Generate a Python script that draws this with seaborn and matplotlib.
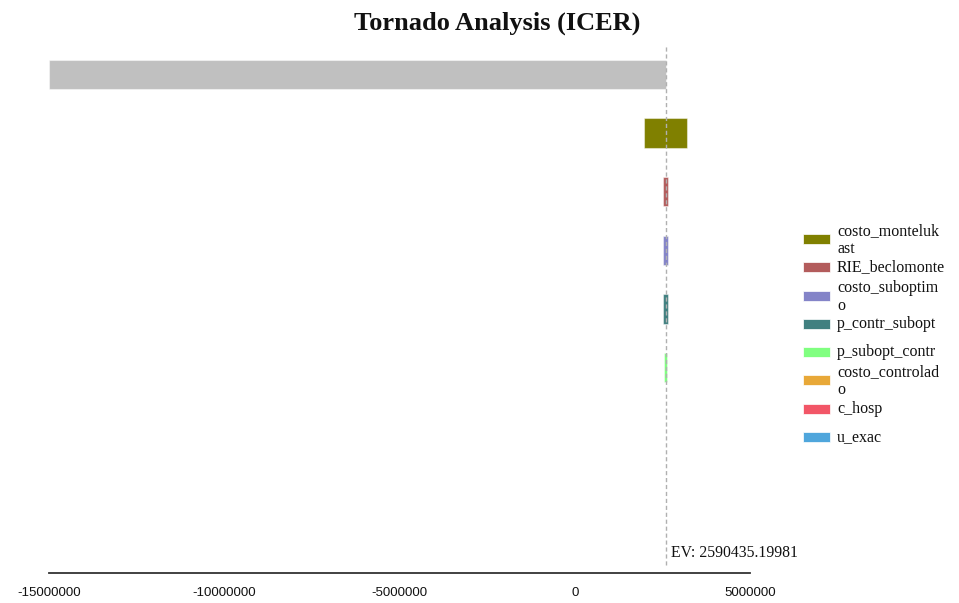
import numpy as np
import pandas as pd
import seaborn as sns
import matplotlib.pyplot as plt
from matplotlib.patches import Rectangle
import matplotlib.transforms as mtransforms

# Tornado data (ICER)
ev = 2590435.19981
params = ["base", "costo_montelukast", "RIE_beclomonte", "costo_suboptimo",
          "p_contr_subopt", "p_subopt_contr", "costo_controlado", "c_hosp", "u_exac"]
low_vals = [-15000000, 1990000, 2515000, 2515000, 2530000, 2550000, ev, ev, ev]
high_vals = [ev, 3200000, 2670000, 2670000, 2660000, 2625000, ev, ev, ev]
bar_colors = ["#c0c0c0", "#808000", "#b35c5c", "#8484c8", "#408080",
              "#80ff80", "#e8a838", "#f25667", "#4fa6dc"]
legend_labels = ["costo_monteluk\nast", "RIE_beclomonte", "costo_suboptim\no",
                 "p_contr_subopt", "p_subopt_contr", "costo_controlad\no",
                 "c_hosp", "u_exac"]
xticks = [-15000000, -10000000, -5000000, 0, 5000000]

df = pd.DataFrame({"param": params, "low": low_vals, "high": high_vals})
df["span"] = df["high"] - df["low"]

sns.set_theme(style="white")
plt.rcParams["font.family"] = ["Liberation Serif", "DejaVu Serif"]

fig = plt.figure(figsize=(9.59, 6.03), dpi=100)
ax = fig.add_axes([49 / 959, 1 - 573 / 603, 701 / 959, 528 / 603])

sns.barplot(data=df, x="span", y="param", hue="param", palette=bar_colors,
            orient="h", width=0.5, saturation=1, legend=False, ax=ax,
            edgecolor=(1, 1, 1, 0.45), linewidth=0.8)

# shift each bar so it runs from low to high
for patch, lo in zip(ax.patches, df["low"]):
    patch.set_x(lo)

ax.set_xlim(-15000000, 5000000)
ax.set_ylim(len(params) - 0.5, -0.5)
ax.set_yticks([])
ax.set_ylabel("")
ax.set_xlabel("")
ax.set_xticks(xticks)
ax.set_xticklabels([str(t) for t in xticks], family="Liberation Sans", fontsize=9.5, color="#111111")
ax.tick_params(axis="x", direction="in", length=6, width=0.8, color="#bbbbbb", pad=10)
for s in ["left", "right", "top"]:
    ax.spines[s].set_visible(False)
ax.spines["bottom"].set_color("#333333")
ax.spines["bottom"].set_linewidth(1.3)

# expected value line
ax.axvline(ev, ymin=0.015, ymax=1.0, color="#b0b0b0", lw=1, ls=(0, (3, 2)), zorder=5)
trans = mtransforms.blended_transform_factory(ax.transData, ax.transAxes)
ax.annotate(f"EV: {ev}", xy=(ev, 0.038), xycoords=trans, xytext=(4, 0),
            textcoords="offset points", va="center", ha="left", fontsize=11.3, color="#111111")

fig.text(0.518, 0.962, "Tornado Analysis (ICER)", ha="center", va="center",
         fontsize=19, fontweight="bold", color="#111111")

# legend drawn beside the plot (first bar has no entry, as in the reference)
swatch_y = [239, 267, 296, 324, 352, 380, 409, 437]
for lab, col, yc in zip(legend_labels, bar_colors[1:], swatch_y):
    fig.add_artist(Rectangle((803 / 959, 1 - (yc + 5) / 603), 27 / 959, 10 / 603,
                             transform=fig.transFigure, facecolor=col,
                             edgecolor="white", lw=0.5))
    lines = lab.split("\n")
    if len(lines) == 2:
        fig.text(837 / 959, 1 - (yc - 8) / 603, lines[0], ha="left", va="center", fontsize=11.5, color="#111111")
        fig.text(837 / 959, 1 - (yc + 10) / 603, lines[1], ha="left", va="center", fontsize=11.5, color="#111111")
    else:
        fig.text(837 / 959, 1 - yc / 603, lab, ha="left", va="center", fontsize=11.5, color="#111111")

fig.savefig("out.png", dpi=100)
